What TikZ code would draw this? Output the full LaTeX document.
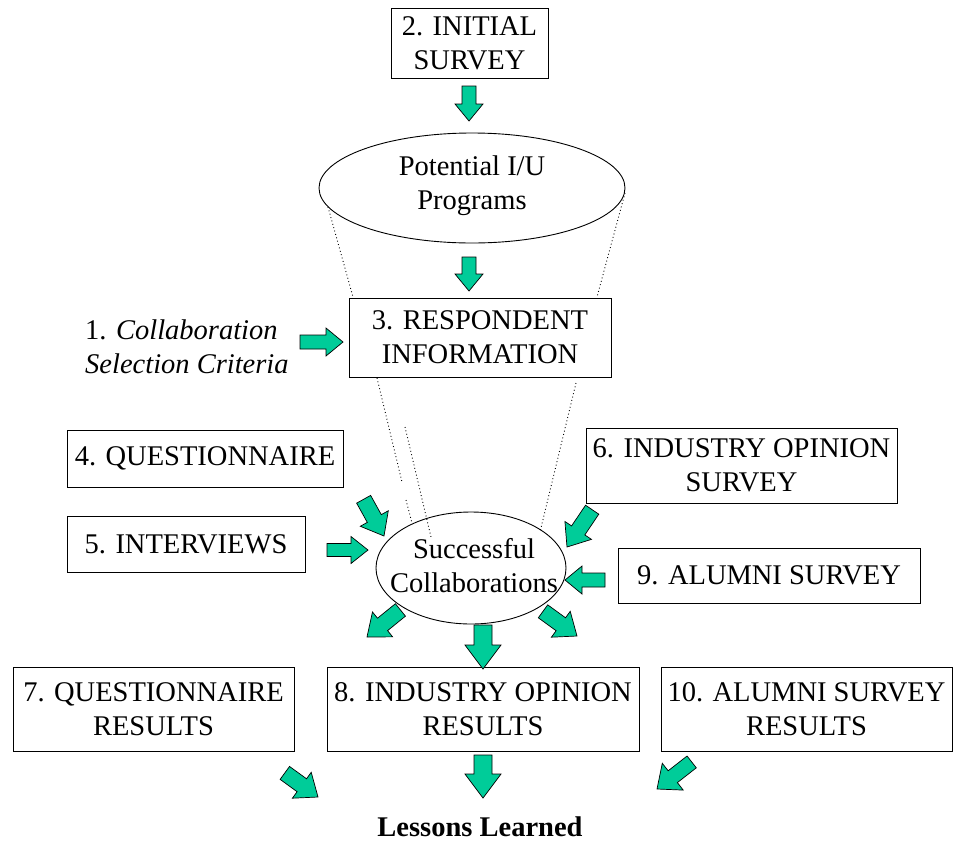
\documentclass[tikz,border=0pt]{standalone}
\usepackage{fontspec}
\setmainfont{Liberation Serif}
\usetikzlibrary{shapes.geometric}
\definecolor{agreen}{RGB}{0,204,153}
\tikzset{
  box/.style={draw, line width=0.9pt, inner sep=0pt, align=center},
  ell/.style={draw, ellipse, line width=0.9pt, inner sep=0pt, align=center},
  dotline/.style={line width=0.9pt, dash pattern=on 0.9pt off 2.6pt},
  barrstyle/.style={draw=black, fill=agreen, line width=0.7pt, line join=miter},
  pics/barr/.style n args={4}{code={
    \draw[barrstyle] (0,0) -- (-#4,#3/2) -- (-#4,#2/2) -- (-#1,#2/2) -- (-#1,-#2/2) -- (-#4,-#2/2) -- (-#4,-#3/2) -- cycle;
  }}
}
\begin{document}
\begin{tikzpicture}[x=1pt,y=-1pt,font=\fontsize{28.5}{34}\selectfont]
\useasboundingbox (0,0) rectangle (956,844);
\fill[white] (0,0) rectangle (956,844);

% dotted funnel lines
\draw[dotline] (328,207) -- (353,297);
\draw[dotline] (625,193) -- (597,297);
\draw[dotline] (377,378) -- (402,482);
\draw[dotline] (406,500) -- (412,523);
\draw[dotline] (405,427) -- (431,537);
\draw[dotline] (576,383) -- (540,532);

% nodes
\node[box, minimum width=157pt, minimum height=70pt] (b2) at (469.5,43) {2. INITIAL\\SURVEY};
\node[ell, minimum width=306pt, minimum height=110pt, fill=white] (pot) at (472,188) {};
\node[align=center, inner sep=0pt] (pott) at (472,186) {Potential I/U\\Programs};
\node[box, minimum width=262pt, minimum height=79pt] (b3) at (480,337.5) {3. RESPONDENT\\INFORMATION};
\node[anchor=west, align=left, inner sep=0pt] (b1) at (85,347) {1. \textit{Collaboration}\\\textit{Selection Criteria}};
\node[box, minimum width=276pt, minimum height=57pt] (b4) at (205,458.5) {4. QUESTIONNAIRE};
\node[box, minimum width=238pt, minimum height=56pt] (b5) at (186,544) {5. INTERVIEWS};
\node[box, minimum width=311pt, minimum height=75pt] (b6) at (741.5,465.5) {6. INDUSTRY OPINION\\SURVEY};
\node[box, minimum width=302pt, minimum height=55pt] (b9) at (769,575.5) {9. ALUMNI SURVEY};
\node[ell, minimum width=190pt, minimum height=112pt] (sc) at (471,568) {};
\node[align=center, inner sep=0pt] (sct) at (474,566) {Successful\\Collaborations};
\node[box, minimum width=281pt, minimum height=84pt] (b7) at (153.5,709) {7. QUESTIONNAIRE\\RESULTS};
\node[box, minimum width=312pt, minimum height=84pt] (b8) at (483,709) {8. INDUSTRY OPINION\\RESULTS};
\node[box, minimum width=291pt, minimum height=84pt] (b10) at (806.5,709) {10. ALUMNI SURVEY\\RESULTS};
\node[inner sep=0pt] (ll) at (480,827) {\textbf{Lessons Learned}};

% block arrows
\pic[rotate=-90] at (469,121) {barr={35}{14}{28}{17}};
\pic[rotate=-90] at (469,291) {barr={34}{14}{28}{17}};
\pic at (343,342) {barr={43}{14}{28}{17}};
\pic[rotate=-61] at (384,536) {barr={42}{16}{32}{20}};
\pic at (368,550) {barr={41}{13}{27}{17}};
\pic[rotate=-124] at (567,547) {barr={45}{16}{32}{20}};
\pic[rotate=180] at (565,580) {barr={40}{14}{28}{17}};
\pic[rotate=-141] at (367,637) {barr={43}{16}{32}{20}};
\pic[rotate=-90] at (483,669) {barr={44}{18}{36}{24}};
\pic[rotate=-36] at (577,636) {barr={42}{16}{32}{20}};
\pic[rotate=-36] at (318,797) {barr={41}{16}{32}{20}};
\pic[rotate=-90] at (483,798) {barr={43}{18}{36}{24}};
\pic[rotate=-142] at (657,789) {barr={44}{15}{34}{20}};
\end{tikzpicture}
\end{document}
